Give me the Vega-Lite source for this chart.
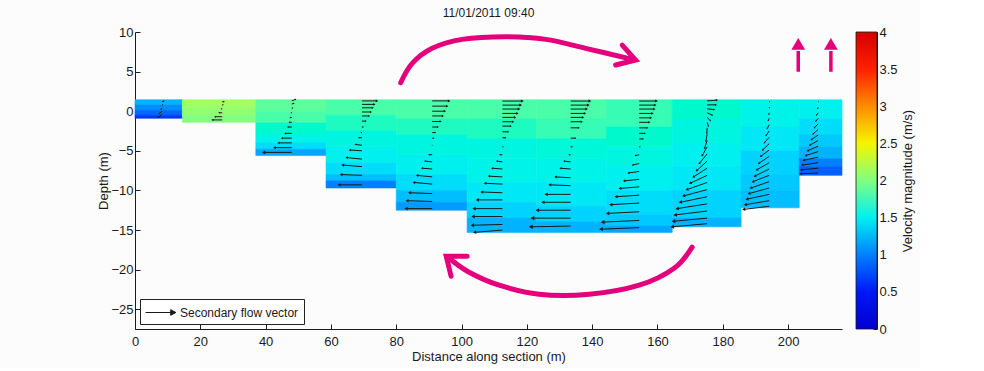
{
  "$schema": "https://vega.github.io/schema/vega-lite/v6.json",
  "background": "#fcfcfc",
  "padding": {"left": 97, "top": 7, "right": 5, "bottom": 5},
  "bounds": "flush",
  "spacing": 14,
  "config": {
    "font": "Liberation Sans",
    "view": {"stroke": null},
    "axis": {"labelFontSize": 13, "titleFontSize": 13, "titleFontWeight": "normal", "labelColor": "#1a1a1a", "titleColor": "#1a1a1a", "domainColor": "#1a1a1a", "tickColor": "#1a1a1a", "grid": false, "tickSize": -5, "domainWidth": 1, "tickWidth": 1, "labelFlush": false, "labelOverlap": false}
  },
  "datasets": {
    "cells": [
      {"x0":0,"x1":14.5,"top":1.45,"bot":0.8,"s":1.2},
      {"x0":0,"x1":14.5,"top":0.8,"bot":0.1,"s":1.05},
      {"x0":0,"x1":14.5,"top":0.1,"bot":-0.5,"s":0.85},
      {"x0":0,"x1":14.5,"top":-0.5,"bot":-0.9,"s":0.6},
      {"x0":14.5,"x1":37,"top":1.45,"bot":0.5,"s":2.15},
      {"x0":14.5,"x1":37,"top":0.5,"bot":-0.5,"s":2.08},
      {"x0":14.5,"x1":37,"top":-0.5,"bot":-1.4,"s":2.0},
      {"x0":37,"x1":58.5,"top":1.45,"bot":0,"s":1.9},
      {"x0":37,"x1":58.5,"top":0,"bot":-1.5,"s":1.85},
      {"x0":37,"x1":58.5,"top":-1.5,"bot":-3,"s":1.7},
      {"x0":37,"x1":58.5,"top":-3,"bot":-4,"s":1.55},
      {"x0":37,"x1":58.5,"top":-4,"bot":-4.8,"s":1.4},
      {"x0":37,"x1":58.5,"top":-4.8,"bot":-5.6,"s":1.15},
      {"x0":58.5,"x1":80,"top":1.45,"bot":-0.5,"s":1.85},
      {"x0":58.5,"x1":80,"top":-0.5,"bot":-2.5,"s":1.75},
      {"x0":58.5,"x1":80,"top":-2.5,"bot":-4.5,"s":1.6},
      {"x0":58.5,"x1":80,"top":-4.5,"bot":-6.5,"s":1.5},
      {"x0":58.5,"x1":80,"top":-6.5,"bot":-8,"s":1.4},
      {"x0":58.5,"x1":80,"top":-8,"bot":-8.8,"s":1.25},
      {"x0":58.5,"x1":80,"top":-8.8,"bot":-9.7,"s":1.0},
      {"x0":80,"x1":101.7,"top":1.45,"bot":-1,"s":1.85},
      {"x0":80,"x1":101.7,"top":-1,"bot":-3,"s":1.75},
      {"x0":80,"x1":101.7,"top":-3,"bot":-5.5,"s":1.6},
      {"x0":80,"x1":101.7,"top":-5.5,"bot":-8,"s":1.5},
      {"x0":80,"x1":101.7,"top":-8,"bot":-10,"s":1.4},
      {"x0":80,"x1":101.7,"top":-10,"bot":-11.5,"s":1.25},
      {"x0":80,"x1":101.7,"top":-11.5,"bot":-12.5,"s":1.1},
      {"x0":101.7,"x1":123,"top":1.45,"bot":-1,"s":1.85},
      {"x0":101.7,"x1":123,"top":-1,"bot":-3.5,"s":1.75},
      {"x0":101.7,"x1":123,"top":-3.5,"bot":-6,"s":1.6},
      {"x0":101.7,"x1":123,"top":-6,"bot":-9,"s":1.55},
      {"x0":101.7,"x1":123,"top":-9,"bot":-11.5,"s":1.45},
      {"x0":101.7,"x1":123,"top":-11.5,"bot":-13.5,"s":1.35},
      {"x0":101.7,"x1":123,"top":-13.5,"bot":-15.3,"s":1.2},
      {"x0":123,"x1":144.3,"top":1.45,"bot":-1,"s":1.85},
      {"x0":123,"x1":144.3,"top":-1,"bot":-3.5,"s":1.8},
      {"x0":123,"x1":144.3,"top":-3.5,"bot":-6,"s":1.65},
      {"x0":123,"x1":144.3,"top":-6,"bot":-9,"s":1.55},
      {"x0":123,"x1":144.3,"top":-9,"bot":-12,"s":1.45},
      {"x0":123,"x1":144.3,"top":-12,"bot":-14,"s":1.35},
      {"x0":123,"x1":144.3,"top":-14,"bot":-15.3,"s":1.2},
      {"x0":144.3,"x1":164.5,"top":1.45,"bot":-2,"s":1.8},
      {"x0":144.3,"x1":164.5,"top":-2,"bot":-4.5,"s":1.7},
      {"x0":144.3,"x1":164.5,"top":-4.5,"bot":-7,"s":1.6},
      {"x0":144.3,"x1":164.5,"top":-7,"bot":-10,"s":1.5},
      {"x0":144.3,"x1":164.5,"top":-10,"bot":-13,"s":1.4},
      {"x0":144.3,"x1":164.5,"top":-13,"bot":-14.5,"s":1.3},
      {"x0":144.3,"x1":164.5,"top":-14.5,"bot":-15.3,"s":1.15},
      {"x0":164.5,"x1":185.6,"top":1.45,"bot":-1,"s":1.7},
      {"x0":164.5,"x1":185.6,"top":-1,"bot":-4,"s":1.6},
      {"x0":164.5,"x1":185.6,"top":-4,"bot":-7,"s":1.5},
      {"x0":164.5,"x1":185.6,"top":-7,"bot":-10,"s":1.45},
      {"x0":164.5,"x1":185.6,"top":-10,"bot":-13.5,"s":1.35},
      {"x0":164.5,"x1":185.6,"top":-13.5,"bot":-14.6,"s":1.2},
      {"x0":185.6,"x1":203.4,"top":1.45,"bot":-2,"s":1.55},
      {"x0":185.6,"x1":203.4,"top":-2,"bot":-5,"s":1.45},
      {"x0":185.6,"x1":203.4,"top":-5,"bot":-8,"s":1.35},
      {"x0":185.6,"x1":203.4,"top":-8,"bot":-10,"s":1.3},
      {"x0":185.6,"x1":203.4,"top":-10,"bot":-12.2,"s":1.25},
      {"x0":203.4,"x1":216.5,"top":1.45,"bot":-1,"s":1.5},
      {"x0":203.4,"x1":216.5,"top":-1,"bot":-3,"s":1.4},
      {"x0":203.4,"x1":216.5,"top":-3,"bot":-4.5,"s":1.3},
      {"x0":203.4,"x1":216.5,"top":-4.5,"bot":-6,"s":1.2},
      {"x0":203.4,"x1":216.5,"top":-6,"bot":-7,"s":1.0},
      {"x0":203.4,"x1":216.5,"top":-7,"bot":-8.1,"s":0.8}
    ],
    "vectors": [
      {"x":8.3,"y":1.2,"u":0.6,"v":0.1},{"x":8.3,"y":0.8,"u":0.2,"v":0},{"x":8.3,"y":0.4,"u":-0.4,"v":-0.2},{"x":8.3,"y":0.0,"u":-0.9,"v":-0.3},{"x":8.3,"y":-0.4,"u":-1.3,"v":-0.4},
      {"x":26.7,"y":1.2,"u":0.6,"v":0},{"x":26.7,"y":0.8,"u":0.3,"v":0},{"x":26.7,"y":0.3,"u":-0.3,"v":0},{"x":26.7,"y":-0.2,"u":-1.0,"v":0},{"x":26.7,"y":-0.7,"u":-2.2,"v":0},{"x":26.7,"y":-1.1,"u":-3.0,"v":0},
      {"x":48,"y":1.3,"u":1.2,"v":0.2},{"x":48,"y":0.9,"u":0.7,"v":0.1},{"x":48,"y":0.4,"u":0.3,"v":0},{"x":48,"y":-0.2,"u":-0.2,"v":0},{"x":48,"y":-0.8,"u":-0.5,"v":0},{"x":48,"y":-1.4,"u":-0.8,"v":0},{"x":48,"y":-2.0,"u":-1.2,"v":0},{"x":48,"y":-2.8,"u":-2.0,"v":0},{"x":48,"y":-3.4,"u":-3.0,"v":0},{"x":48,"y":-4.0,"u":-4.0,"v":0},{"x":48,"y":-4.6,"u":-5.3,"v":0},{"x":48,"y":-5.2,"u":-8.6,"v":0},
      {"x":69.5,"y":1.3,"u":4.6,"v":0},{"x":69.5,"y":0.86,"u":3.8,"v":0},{"x":69.5,"y":0.43,"u":3.3,"v":0},{"x":69.5,"y":-0.1,"u":2.75,"v":0},{"x":69.5,"y":-0.6,"u":2.2,"v":0},{"x":69.5,"y":-1.25,"u":1.2,"v":0},{"x":69.5,"y":-2.0,"u":0.4,"v":0},{"x":69.5,"y":-2.7,"u":-0.3,"v":0},{"x":69.5,"y":-3.35,"u":-1.0,"v":0},{"x":69.5,"y":-4.3,"u":-2.0,"v":0.1},{"x":69.5,"y":-5.0,"u":-3.7,"v":0.1},{"x":69.5,"y":-6.05,"u":-4.7,"v":0.2},{"x":69.5,"y":-7.0,"u":-5.9,"v":0.2},{"x":69.5,"y":-8.1,"u":-6.4,"v":0.1},{"x":69.5,"y":-9.3,"u":-7.0,"v":0},
      {"x":91,"y":1.3,"u":5.2,"v":0},{"x":91,"y":0.64,"u":4.6,"v":0},{"x":91,"y":0.0,"u":3.9,"v":0},{"x":91,"y":-0.6,"u":3.3,"v":0},{"x":91,"y":-1.3,"u":2.6,"v":0},{"x":91,"y":-2.0,"u":1.8,"v":0},{"x":91,"y":-2.7,"u":1.0,"v":0},{"x":91,"y":-3.4,"u":0.5,"v":0},{"x":91,"y":-4.3,"u":0.05,"v":0},{"x":91,"y":-5.5,"u":-1.0,"v":0},{"x":91,"y":-6.4,"u":-2.2,"v":0.1},{"x":91,"y":-7.3,"u":-3.1,"v":0.1},{"x":91,"y":-8.3,"u":-4.6,"v":0.2},{"x":91,"y":-9.2,"u":-5.6,"v":0.2},{"x":91,"y":-10.4,"u":-6.9,"v":0.1},{"x":91,"y":-11.4,"u":-7.7,"v":0.1},{"x":91,"y":-12.3,"u":-8.0,"v":0},
      {"x":112.5,"y":1.28,"u":6.1,"v":0},{"x":112.5,"y":0.77,"u":5.6,"v":0},{"x":112.5,"y":0.27,"u":5.1,"v":0},{"x":112.5,"y":-0.28,"u":4.6,"v":0},{"x":112.5,"y":-0.78,"u":3.9,"v":0},{"x":112.5,"y":-1.33,"u":3.3,"v":0},{"x":112.5,"y":-1.88,"u":2.6,"v":0},{"x":112.5,"y":-2.6,"u":1.8,"v":0},{"x":112.5,"y":-3.36,"u":1.0,"v":0},{"x":112.5,"y":-4.5,"u":0.3,"v":0},{"x":112.5,"y":-5.5,"u":-0.8,"v":0},{"x":112.5,"y":-6.4,"u":-1.7,"v":0.1},{"x":112.5,"y":-7.3,"u":-3.1,"v":0.1},{"x":112.5,"y":-8.3,"u":-4.1,"v":0.1},{"x":112.5,"y":-9.2,"u":-5.3,"v":0.1},{"x":112.5,"y":-10.3,"u":-6.3,"v":0.1},{"x":112.5,"y":-11.2,"u":-7.7,"v":0},{"x":112.5,"y":-12.3,"u":-8.7,"v":0},{"x":112.5,"y":-13.3,"u":-9.0,"v":0},{"x":112.5,"y":-14.3,"u":-9.2,"v":-0.1},{"x":112.5,"y":-15.0,"u":-8.5,"v":-0.3},
      {"x":133.4,"y":1.28,"u":5.9,"v":0},{"x":133.4,"y":0.77,"u":5.4,"v":0},{"x":133.4,"y":0.27,"u":4.9,"v":0},{"x":133.4,"y":-0.28,"u":4.4,"v":0},{"x":133.4,"y":-0.78,"u":3.8,"v":0},{"x":133.4,"y":-1.33,"u":3.4,"v":0},{"x":133.4,"y":-2.1,"u":2.5,"v":0},{"x":133.4,"y":-3.4,"u":1.5,"v":0},{"x":133.4,"y":-4.5,"u":0.5,"v":0},{"x":133.4,"y":-5.5,"u":-0.5,"v":0},{"x":133.4,"y":-6.4,"u":-2.0,"v":0.1},{"x":133.4,"y":-7.3,"u":-3.1,"v":0.1},{"x":133.4,"y":-8.4,"u":-4.6,"v":0.1},{"x":133.4,"y":-9.4,"u":-6.4,"v":0.1},{"x":133.4,"y":-10.5,"u":-7.5,"v":0},{"x":133.4,"y":-11.5,"u":-8.5,"v":0},{"x":133.4,"y":-12.5,"u":-10.2,"v":0},{"x":133.4,"y":-13.5,"u":-11.7,"v":0},{"x":133.4,"y":-14.5,"u":-12.2,"v":-0.1},
      {"x":154.4,"y":1.28,"u":5.3,"v":0},{"x":154.4,"y":0.77,"u":4.9,"v":0},{"x":154.4,"y":0.27,"u":4.6,"v":0},{"x":154.4,"y":-0.28,"u":4.1,"v":0},{"x":154.4,"y":-0.84,"u":3.6,"v":0},{"x":154.4,"y":-1.4,"u":3.1,"v":0},{"x":154.4,"y":-2.1,"u":2.5,"v":0},{"x":154.4,"y":-2.8,"u":1.8,"v":0},{"x":154.4,"y":-3.5,"u":1.2,"v":0},{"x":154.4,"y":-4.5,"u":0.3,"v":0},{"x":154.4,"y":-5.5,"u":-1.2,"v":-0.1},{"x":154.4,"y":-6.6,"u":-2.0,"v":-0.2},{"x":154.4,"y":-7.6,"u":-3.3,"v":-0.2},{"x":154.4,"y":-8.6,"u":-4.6,"v":-0.2},{"x":154.4,"y":-9.55,"u":-5.9,"v":-0.2},{"x":154.4,"y":-10.6,"u":-7.1,"v":-0.2},{"x":154.4,"y":-11.6,"u":-8.7,"v":-0.2},{"x":154.4,"y":-12.7,"u":-9.7,"v":-0.2},{"x":154.4,"y":-13.8,"u":-11.2,"v":-0.2},{"x":154.4,"y":-14.7,"u":-11.7,"v":-0.2},
      {"x":175.2,"y":1.3,"u":3.0,"v":0.1},{"x":175.2,"y":0.8,"u":2.7,"v":0},{"x":175.2,"y":0.3,"u":2.2,"v":-0.1},{"x":175.2,"y":-0.2,"u":1.6,"v":-0.3},{"x":175.2,"y":-0.8,"u":1.0,"v":-0.4},{"x":175.2,"y":-1.4,"u":0.4,"v":-0.5},{"x":175.2,"y":-2.1,"u":-0.1,"v":-0.7},{"x":175.2,"y":-2.9,"u":-0.4,"v":-0.9},{"x":175.2,"y":-3.7,"u":-0.8,"v":-1.0},{"x":175.2,"y":-4.5,"u":-1.5,"v":-1.1},{"x":175.2,"y":-5.4,"u":-2.4,"v":-1.2},{"x":175.2,"y":-6.3,"u":-3.2,"v":-1.2},{"x":175.2,"y":-7.2,"u":-4.2,"v":-1.1},{"x":175.2,"y":-8.1,"u":-5.2,"v":-1.0},{"x":175.2,"y":-9.0,"u":-6.2,"v":-0.9},{"x":175.2,"y":-9.9,"u":-7.2,"v":-0.8},{"x":175.2,"y":-10.8,"u":-8.2,"v":-0.7},{"x":175.2,"y":-11.7,"u":-9.2,"v":-0.6},{"x":175.2,"y":-12.6,"u":-9.8,"v":-0.5},{"x":175.2,"y":-13.5,"u":-10.3,"v":-0.4},{"x":175.2,"y":-14.2,"u":-10.7,"v":-0.4},
      {"x":194.2,"y":1.2,"u":0.2,"v":0},{"x":194.2,"y":0.5,"u":0.1,"v":-0.1},{"x":194.2,"y":-0.2,"u":-0.1,"v":-0.2},{"x":194.2,"y":-0.9,"u":-0.3,"v":-0.3},{"x":194.2,"y":-1.7,"u":-0.6,"v":-0.5},{"x":194.2,"y":-2.5,"u":-1.0,"v":-0.6},{"x":194.2,"y":-3.3,"u":-1.5,"v":-0.7},{"x":194.2,"y":-4.1,"u":-2.0,"v":-0.8},{"x":194.2,"y":-4.9,"u":-2.6,"v":-0.8},{"x":194.2,"y":-5.7,"u":-3.2,"v":-0.9},{"x":194.2,"y":-6.5,"u":-3.8,"v":-0.9},{"x":194.2,"y":-7.3,"u":-4.4,"v":-0.9},{"x":194.2,"y":-8.1,"u":-5.0,"v":-0.8},{"x":194.2,"y":-8.9,"u":-5.6,"v":-0.8},{"x":194.2,"y":-9.7,"u":-6.2,"v":-0.7},{"x":194.2,"y":-10.5,"u":-6.8,"v":-0.6},{"x":194.2,"y":-11.3,"u":-7.3,"v":-0.5},{"x":194.2,"y":-12.0,"u":-7.8,"v":-0.4},
      {"x":209.2,"y":1.2,"u":0.1,"v":0},{"x":209.2,"y":0.5,"u":-0.2,"v":-0.2},{"x":209.2,"y":-0.2,"u":-0.5,"v":-0.3},{"x":209.2,"y":-0.9,"u":-0.8,"v":-0.4},{"x":209.2,"y":-1.6,"u":-1.2,"v":-0.5},{"x":209.2,"y":-2.3,"u":-1.6,"v":-0.6},{"x":209.2,"y":-3.0,"u":-2.1,"v":-0.6},{"x":209.2,"y":-3.7,"u":-2.6,"v":-0.6},{"x":209.2,"y":-4.4,"u":-3.2,"v":-0.6},{"x":209.2,"y":-5.1,"u":-3.8,"v":-0.5},{"x":209.2,"y":-5.8,"u":-4.4,"v":-0.4},{"x":209.2,"y":-6.5,"u":-4.9,"v":-0.3},{"x":209.2,"y":-7.2,"u":-5.2,"v":-0.2},{"x":209.2,"y":-7.8,"u":-5.4,"v":-0.1}
    ],
    "arcs": [
      {"arc":"top","i":1,"x":81.35,"y":3.59},{"arc":"top","i":2,"x":84.9,"y":6.04},{"arc":"top","i":3,"x":91.0,"y":7.94},{"arc":"top","i":4,"x":100.2,"y":9.07},{"arc":"top","i":5,"x":113.5,"y":9.4},{"arc":"top","i":6,"x":125.8,"y":9.07},{"arc":"top","i":7,"x":138.0,"y":7.94},{"arc":"top","i":8,"x":152.3,"y":6.55},
      {"arc":"bottom","i":1,"x":170.6,"y":-17.17},{"arc":"bottom","i":2,"x":165.1,"y":-19.83},{"arc":"bottom","i":3,"x":154.4,"y":-21.97},{"arc":"bottom","i":4,"x":139.1,"y":-23.11},{"arc":"bottom","i":5,"x":123.7,"y":-23.11},{"arc":"bottom","i":6,"x":111.5,"y":-21.97},{"arc":"bottom","i":7,"x":102.3,"y":-20.33},{"arc":"bottom","i":8,"x":96.3,"y":-18.6}
    ],
    "heads": [
      {"arc":"top","i":1,"x":149.2,"y":8.35},{"arc":"top","i":2,"x":153.3,"y":6.46},{"arc":"top","i":3,"x":147.2,"y":5.83},
      {"arc":"bottom","i":1,"x":101.7,"y":-18.31},{"arc":"bottom","i":2,"x":95.3,"y":-18.31},{"arc":"bottom","i":3,"x":96.8,"y":-20.84}
    ],
    "ups": [
      {"x":203.1,"y0":4.98,"y1":7.6,"hy":8.5},
      {"x":213.1,"y0":4.98,"y1":7.6,"hy":8.5}
    ]
  },
  "hconcat": [
    {
      "width": 707,
      "height": 297,
      "title": {"text": "11/01/2011 09:40", "fontSize": 12, "fontWeight": "normal", "offset": 6, "color": "#1a1a1a"},
      "layer": [
        {
          "data": {"name": "cells"},
          "mark": {"type": "rect", "strokeWidth": 0.6},
          "encoding": {
            "x": {"field": "x0", "type": "quantitative", "title": "Distance along section (m)", "scale": {"domain": [0, 216.5], "nice": false, "zero": false},
                  "axis": {"values": [0,20,40,60,80,100,120,140,160,180,200], "labelPadding": 11, "titlePadding": 2}},
            "x2": {"field": "x1"},
            "y": {"field": "top", "type": "quantitative", "title": "Depth (m)", "scale": {"domain": [-27.5, 10], "nice": false, "zero": false},
                  "axis": {"values": [-25,-20,-15,-10,-5,0,5,10], "labelPadding": 7, "titlePadding": 0}},
            "y2": {"field": "bot"},
            "color": {"field": "s", "type": "quantitative", "legend": null,
                      "scale": {"domain": [0,0.5,1,1.5,2,2.5,3,3.5,4], "range": ["#0000d0","#0018f5","#0080ff","#00f0f0","#80ff80","#f5f500","#ff8c00","#ff2000","#d40000"]}},
            "stroke": {"field": "s", "type": "quantitative", "legend": null,
                      "scale": {"domain": [0,0.5,1,1.5,2,2.5,3,3.5,4], "range": ["#0000d0","#0018f5","#0080ff","#00f0f0","#80ff80","#f5f500","#ff8c00","#ff2000","#d40000"]}}
          }
        },
        {
          "data": {"name": "vectors"},
          "transform": [
            {"calculate": "datum.x + datum.u", "as": "xe"},
            {"calculate": "datum.y + datum.v", "as": "ye"}
          ],
          "mark": {"type": "rule", "strokeWidth": 1},
          "encoding": {
            "x": {"field": "x", "type": "quantitative", "title": "Distance along section (m)", "scale": {"domain": [0, 216.5], "nice": false, "zero": false}},
            "x2": {"field": "xe"},
            "y": {"field": "y", "type": "quantitative", "title": "Depth (m)", "scale": {"domain": [-27.5, 10], "nice": false, "zero": false}},
            "y2": {"field": "ye"},
            "stroke": {"datum": "Secondary flow vector", "type": "nominal", "scale": {"range": ["#1a1a1a"]},
                       "legend": {"title": null, "orient": "bottom-left", "offset": 5, "padding": 5, "strokeColor": "#222222", "fillColor": "#ffffff", "cornerRadius": 0,
                                  "symbolType": "M-1,0L2.45,0M2.15,-0.35L2.8,0L2.15,0.35Z", "symbolSize": 256, "symbolStrokeWidth": 1, "symbolFillColor": "#1a1a1a",
                                  "labelFontSize": 12, "labelColor": "#1a1a1a", "labelOffset": 18}}
          }
        },
        {
          "data": {"name": "vectors"},
          "transform": [
            {"calculate": "datum.x + datum.u", "as": "xe"},
            {"calculate": "datum.y + datum.v", "as": "ye"},
            {"calculate": "atan2(datum.u * 3.266, datum.v * 7.92) * 180 / PI", "as": "ang"},
            {"calculate": "sqrt(datum.u * datum.u * 10.67 + datum.v * datum.v * 62.7)", "as": "len"}
          ],
          "mark": {"type": "point", "shape": "triangle-up", "filled": true, "color": "#1a1a1a", "opacity": 1},
          "encoding": {
            "x": {"field": "xe", "type": "quantitative", "title": "Distance along section (m)", "scale": {"domain": [0, 216.5], "nice": false, "zero": false}},
            "y": {"field": "ye", "type": "quantitative", "title": "Depth (m)", "scale": {"domain": [-27.5, 10], "nice": false, "zero": false}},
            "angle": {"field": "ang", "type": "quantitative", "scale": null},
            "size": {"field": "len", "type": "quantitative", "scale": {"domain": [0, 40], "range": [1, 20]}, "legend": null}
          }
        },
        {
          "data": {"name": "arcs"},
          "mark": {"type": "line", "interpolate": "cardinal", "strokeWidth": 5, "strokeCap": "round", "color": "#e4007c"},
          "encoding": {
            "x": {"field": "x", "type": "quantitative", "title": "Distance along section (m)", "scale": {"domain": [0, 216.5], "nice": false, "zero": false}},
            "y": {"field": "y", "type": "quantitative", "title": "Depth (m)", "scale": {"domain": [-27.5, 10], "nice": false, "zero": false}},
            "detail": {"field": "arc"},
            "order": {"field": "i"}
          }
        },
        {
          "data": {"name": "heads"},
          "mark": {"type": "line", "strokeWidth": 5, "strokeCap": "round", "strokeJoin": "miter", "color": "#e4007c"},
          "encoding": {
            "x": {"field": "x", "type": "quantitative", "title": "Distance along section (m)", "scale": {"domain": [0, 216.5], "nice": false, "zero": false}},
            "y": {"field": "y", "type": "quantitative", "title": "Depth (m)", "scale": {"domain": [-27.5, 10], "nice": false, "zero": false}},
            "detail": {"field": "arc"},
            "order": {"field": "i"}
          }
        },
        {
          "data": {"name": "ups"},
          "mark": {"type": "rule", "strokeWidth": 3.5, "color": "#e4007c"},
          "encoding": {
            "x": {"field": "x", "type": "quantitative", "title": "Distance along section (m)", "scale": {"domain": [0, 216.5], "nice": false, "zero": false}},
            "y": {"field": "y0", "type": "quantitative", "title": "Depth (m)", "scale": {"domain": [-27.5, 10], "nice": false, "zero": false}},
            "y2": {"field": "y1"}
          }
        },
        {
          "data": {"name": "ups"},
          "mark": {"type": "point", "shape": "triangle-up", "filled": true, "size": 190, "color": "#e4007c", "opacity": 1},
          "encoding": {
            "x": {"field": "x", "type": "quantitative", "title": "Distance along section (m)", "scale": {"domain": [0, 216.5], "nice": false, "zero": false}},
            "y": {"field": "hy", "type": "quantitative", "title": "Depth (m)", "scale": {"domain": [-27.5, 10], "nice": false, "zero": false}}
          }
        }
      ]
    },
    {
      "width": 21,
      "height": 297,
      "data": {"values": [{"lo": 0, "hi": 4}]},
      "mark": {"type": "rect", "stroke": "#1a1a1a", "strokeWidth": 0.8,
               "fill": {"gradient": "linear", "x1": 0, "y1": 1, "x2": 0, "y2": 0,
                        "stops": [{"offset": 0, "color": "#0000d0"}, {"offset": 0.125, "color": "#0018f5"}, {"offset": 0.25, "color": "#0080ff"}, {"offset": 0.375, "color": "#00f0f0"}, {"offset": 0.5, "color": "#80ff80"}, {"offset": 0.625, "color": "#f5f500"}, {"offset": 0.75, "color": "#ff8c00"}, {"offset": 0.875, "color": "#ff2000"}, {"offset": 1, "color": "#d40000"}]}},
      "encoding": {
        "y": {"field": "lo", "type": "quantitative", "scale": {"domain": [0, 4], "nice": false},
              "axis": {"orient": "right", "values": [0,0.5,1,1.5,2,2.5,3,3.5,4], "format": "~g", "title": "Velocity magnitude (m/s)", "titleAngle": 270, "titleBaseline": "top", "labelPadding": 6, "tickSize": -4, "titlePadding": 4}},
        "y2": {"field": "hi"}
      }
    }
  ]
}
